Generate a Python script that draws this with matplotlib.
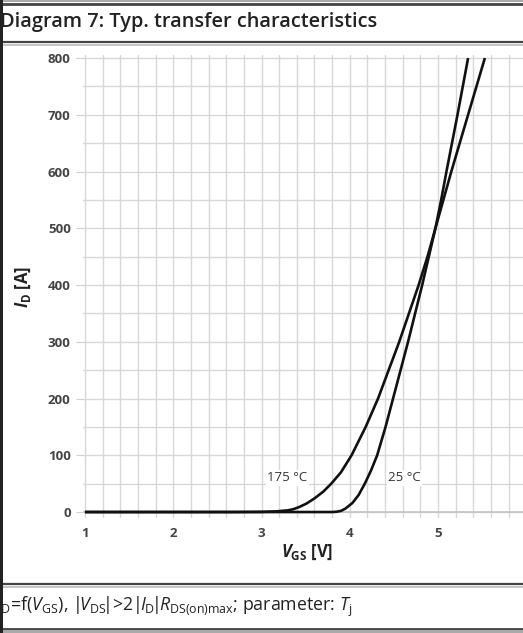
import matplotlib
matplotlib.use("Agg")
import matplotlib.pyplot as plt
from matplotlib.ticker import MultipleLocator

plt.rcParams['font.family'] = ['Open Sans', 'DejaVu Sans']
plt.rcParams['mathtext.fontset'] = 'custom'
plt.rcParams['mathtext.rm'] = 'Open Sans'
plt.rcParams['mathtext.it'] = 'Open Sans:italic'
plt.rcParams['mathtext.bf'] = 'Open Sans:bold'
plt.rcParams['mathtext.bfit'] = 'Open Sans:italic:bold'

# values
vgs_25 = [1.0, 3.2, 3.80, 3.85, 3.90, 3.95, 4.03, 4.10, 4.17, 4.24, 4.31, 4.405,
          4.49, 4.575, 4.66, 4.74, 4.82, 4.895, 4.97, 5.035, 5.095, 5.22, 5.34]
id_25 = [0, 0, 0, 0.5, 2, 6, 16, 30, 50, 73, 100, 150,
         200, 250, 300, 350, 400, 450, 500, 550, 600, 700, 800]

vgs_175 = [1.0, 2.7, 3.0, 3.17, 3.30, 3.36, 3.43, 3.51, 3.60, 3.70, 3.79, 3.90,
           4.02, 4.18, 4.32, 4.44, 4.56, 4.67, 4.78, 4.88, 4.97, 5.06, 5.15, 5.34, 5.53]
id_175 = [0, 0, 0.3, 1.2, 3, 5, 9, 15, 24, 36, 50, 70,
          100, 150, 200, 250, 300, 350, 400, 450, 500, 550, 600, 700, 800]

W, H = 523, 633
fig = plt.figure(figsize=(W / 100, H / 100), dpi=100)


def fx(px):
    return px / W


def fy(py):
    return 1 - py / H


# plot area in pixels (left, top, right, bottom)
L, T, R, B = 83.2, 55.2, 529.0, 517.7
ax = fig.add_axes([fx(L), fy(B), fx(R - L), (B - T) / H])
ax.set_xlim(0.98, 6.03)
ax.set_ylim(-10, 805)

ax.xaxis.set_major_locator(MultipleLocator(1))
ax.xaxis.set_minor_locator(MultipleLocator(0.2))
ax.yaxis.set_major_locator(MultipleLocator(100))
ax.yaxis.set_minor_locator(MultipleLocator(50))
ax.grid(which='both', color='#d8d8d8', lw=1.0)
ax.set_axisbelow(True)
for s in ax.spines.values():
    s.set_visible(False)
ax.axhline(0, color='#c4c4c4', lw=1.2, zorder=1)

ax.tick_params(which='both', length=0)
ax.tick_params(axis='y', which='major', length=5, color='#d0d0d0', pad=4)
ax.tick_params(axis='x', which='major', pad=7)
for lab in ax.get_xticklabels() + ax.get_yticklabels():
    lab.set_fontsize(9.5)
    lab.set_fontweight('bold')
    lab.set_color('#444444')

ax.plot(vgs_25, id_25, color='#111111', lw=1.9, solid_capstyle='butt', zorder=3)
ax.plot(vgs_175, id_175, color='#111111', lw=1.9, solid_capstyle='butt', zorder=3)

box = dict(facecolor='white', edgecolor='none', pad=1)
ax.text(3.29, 60, '175 °C', fontsize=9.5, color='#333333', ha='center', va='center', bbox=box, zorder=2)
ax.text(4.62, 60, '25 °C', fontsize=9.5, color='#333333', ha='center', va='center', bbox=box, zorder=2)

ax.set_xlabel(r'$\bfit{V}_{\mathbf{GS}}$ [V]', fontsize=12, fontweight='bold', color='#222222')
ax.set_ylabel(r'$\bfit{I}_{\mathbf{D}}$ [A]', fontsize=12, fontweight='bold', color='#222222')
ax.xaxis.set_label_coords((307 - L) / (R - L), (B - 543) / (B - T))
ax.yaxis.set_label_coords((33 - L) / (R - L), 0.5)

# title and caption
fig.text(fx(0), fy(22), 'Diagram 7: Typ. transfer characteristics', fontsize=14.4,
         fontweight='semibold', color='#222222', ha='left', va='center')
fig.text(fx(-4), fy(607),
         r'$I_{\mathrm{D}}$=f($V_{\mathrm{GS}}$), |$\!V_{\mathrm{DS}}\!$|>2|$\!I_{\mathrm{D}}\!$|'
         r'$\!R_{\mathrm{DS(on)max}}$; parameter: $T_{\mathrm{j}}$',
         fontsize=12.8, color='#222222', ha='left', va='center')

# frame rules of the datasheet box
rules = [(3.5, '#444444', 2.0), (42, '#444444', 1.6), (45, '#bbbbbb', 1.2),
         (584, '#444444', 1.6), (587, '#bbbbbb', 1.2), (628.5, '#444444', 2.0)]
for py, c, lw in rules:
    fig.add_artist(plt.Line2D([0, 1], [fy(py), fy(py)], transform=fig.transFigure, color=c, lw=lw))
fig.patches.append(plt.Rectangle((0, 0), fx(3), 1, transform=fig.transFigure,
                                 facecolor='#222222', edgecolor='none', zorder=5))
fig.patches.append(plt.Rectangle((0, fy(2)), 1, 2 / H, transform=fig.transFigure,
                                 facecolor='#aaaaaa', edgecolor='none', zorder=4))
fig.patches.append(plt.Rectangle((0, 0), 1, 3 / H, transform=fig.transFigure,
                                 facecolor='#aaaaaa', edgecolor='none', zorder=4))

fig.savefig('out.png', dpi=100)
